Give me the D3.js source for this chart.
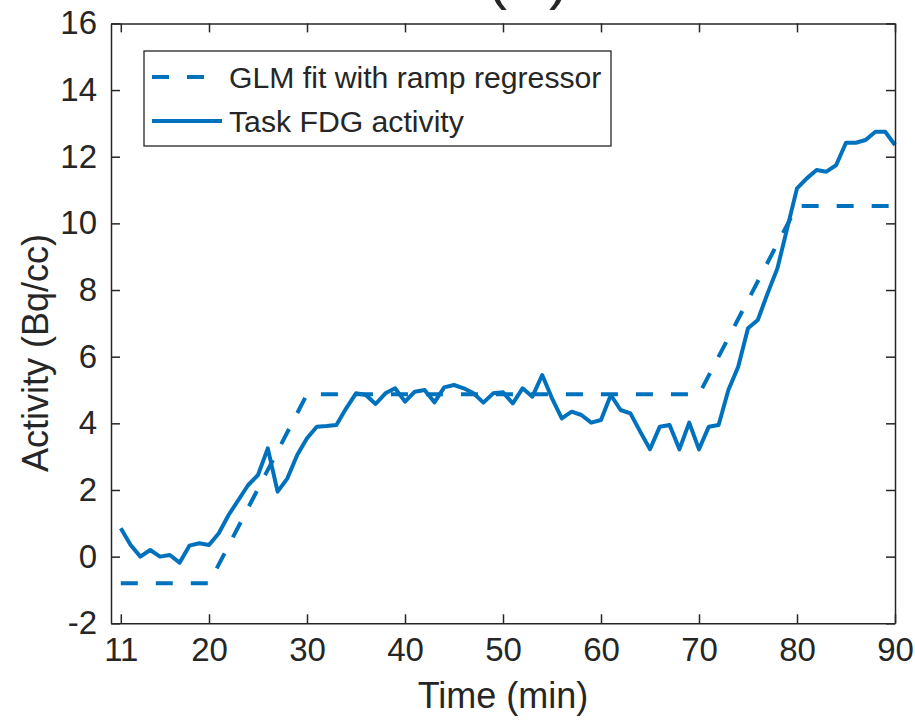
<!DOCTYPE html>
<html>
<head>
<meta charset="utf-8">
<script src="https://cdn.jsdelivr.net/npm/d3@7/dist/d3.min.js"></script>
<style>
  html, body { margin: 0; padding: 0; background: #ffffff; }
  svg { display: block; }
  text { font-family: "Liberation Sans", Arial, sans-serif; fill: #262626; }
</style>
</head>
<body>
<svg id="chart" width="915" height="725"></svg>
<script>
// ---- data ----
const taskTimes = d3.range(11, 91); // minutes 11..90
const taskActivity = [
  0.85, 0.35, 0.0, 0.2, 0.0, 0.05, -0.18, 0.33, 0.4, 0.35,
  0.7, 1.25, 1.7, 2.15, 2.45, 3.25, 1.95, 2.35, 3.05, 3.55,
  3.9, 3.92, 3.95, 4.45, 4.9, 4.85, 4.58, 4.9, 5.05, 4.65,
  4.95, 5.0, 4.63, 5.08, 5.15, 5.05, 4.9, 4.62, 4.9, 4.93,
  4.6, 5.05, 4.8, 5.45, 4.75, 4.15, 4.35, 4.25, 4.02, 4.1,
  4.85, 4.4, 4.3, 3.75, 3.22, 3.9, 3.95, 3.22, 4.02, 3.22,
  3.9, 3.95, 5.0, 5.7, 6.85, 7.1, 7.9, 8.65, 9.85, 11.05,
  11.35, 11.6, 11.55, 11.75, 12.42, 12.42, 12.5, 12.75, 12.75, 12.35
];
const glmTimes  = [11, 20, 30, 70, 80, 90];
const glmValues = [-0.8, -0.8, 4.87, 4.87, 10.52, 10.52];

const xTicks = [11, 20, 30, 40, 50, 60, 70, 80, 90];
const yTicks = [-2, 0, 2, 4, 6, 8, 10, 12, 14, 16];
const legendLabels = ["GLM fit with ramp regressor", "Task FDG activity"];
const xLabel = "Time (min)";
const yLabel = "Activity (Bq/cc)";
const panelTitle = "(c)";

// ---- layout ----
const L = 111, R = 895, T = 23.4, B = 623.3;
const blue = "#0072BD", axisCol = "#262626";
const fmt = d => String(d); // plain hyphen minus like the reference

const svg = d3.select("#chart");
const x = d3.scaleLinear().domain([10, 90]).range([L, R]);
const y = d3.scaleLinear().domain([-2, 16]).range([B, T]);

// panel title (mostly cut off at the top, as in the reference)
svg.append("text").attr("x", 531).attr("y", -2)
  .attr("text-anchor", "middle").style("font-size", "60px")
  .style("letter-spacing", "6px")
  .text(panelTitle);

// data lines
const line = d3.line().x(d => x(d[0])).y(d => y(d[1]));
const glmData = glmTimes.map((t, i) => [t, glmValues[i]]);
const taskData = taskTimes.map((t, i) => [t, taskActivity[i]]);

const plot = svg.append("g");
plot.append("path").datum(glmData).attr("d", line)
  .attr("fill", "none").attr("stroke", blue).attr("stroke-width", 4)
  .attr("stroke-dasharray", "17,18");
plot.append("path").datum(taskData).attr("d", line)
  .attr("fill", "none").attr("stroke", blue).attr("stroke-width", 4)
  .attr("stroke-linejoin", "round");

// axes (ticks inward, box)
function styleAxis(g) {
  g.selectAll(".domain").attr("stroke", axisCol).attr("stroke-width", 1.5);
  g.selectAll(".tick line").attr("stroke", axisCol).attr("stroke-width", 1.5);
  g.selectAll(".tick text").style("font-size", "33px").attr("fill", axisCol)
    .style("font-family", "'Liberation Sans', Arial, sans-serif");
}
const gx = svg.append("g").attr("transform", `translate(0,${B})`)
  .call(d3.axisBottom(x).tickValues(xTicks).tickSizeInner(-9).tickSizeOuter(0).tickPadding(14).tickFormat(fmt));
styleAxis(gx);
const gxTop = svg.append("g").attr("transform", `translate(0,${T})`)
  .call(d3.axisTop(x).tickValues(xTicks).tickSizeInner(-9).tickSizeOuter(0).tickFormat(""));
styleAxis(gxTop);
const gy = svg.append("g").attr("transform", `translate(${L},0)`)
  .call(d3.axisLeft(y).tickValues(yTicks).tickSizeInner(-9).tickSizeOuter(0).tickPadding(14).tickFormat(fmt));
styleAxis(gy);
const gyR = svg.append("g").attr("transform", `translate(${R},0)`)
  .call(d3.axisRight(y).tickValues(yTicks).tickSizeInner(-9).tickSizeOuter(0).tickFormat(""));
styleAxis(gyR);

// axis labels
svg.append("text").attr("x", (L + R) / 2).attr("y", 708)
  .attr("text-anchor", "middle").style("font-size", "36px").text(xLabel);
svg.append("text")
  .attr("transform", `translate(48,353) rotate(-90)`)
  .attr("text-anchor", "middle").style("font-size", "36px").text(yLabel);

// legend
const lg = svg.append("g");
lg.append("rect").attr("x", 144).attr("y", 51).attr("width", 467).attr("height", 95)
  .attr("fill", "#ffffff").attr("stroke", axisCol).attr("stroke-width", 1.3);
const rowsY = [77, 121];
legendLabels.forEach((lab, i) => {
  lg.append("line").attr("x1", 152).attr("x2", 222)
    .attr("y1", rowsY[i]).attr("y2", rowsY[i])
    .attr("stroke", blue).attr("stroke-width", 4)
    .attr("stroke-dasharray", i === 0 ? "17,18" : null);
  lg.append("text").attr("x", 229).attr("y", rowsY[i]).attr("dy", "0.36em")
    .style("font-size", "30.2px").text(lab);
});
</script>
</body>
</html>
